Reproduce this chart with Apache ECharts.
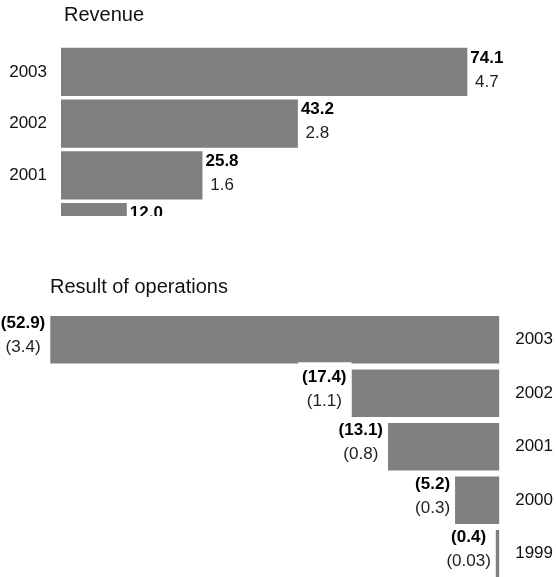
<!DOCTYPE html>
<html>
<head>
<meta charset="utf-8">
<script src="https://cdn.jsdelivr.net/npm/echarts@6/dist/echarts.min.js"></script>
<style>
html,body{margin:0;padding:0;background:#fff;width:556px;height:577px;overflow:hidden;}
#topWrap{position:absolute;left:0;top:0;width:556px;height:216px;overflow:hidden;}
#top{width:556px;height:300px;}
#botWrap{position:absolute;left:0;top:270px;width:556px;height:307px;overflow:hidden;}
#bot{width:556px;height:330px;}
</style>
</head>
<body>
<div id="topWrap"><div id="top"></div></div>
<div id="botWrap"><div id="bot"></div></div>
<script>
// Revenue panel (visible part; 2000 row is cut off in the reference)
const revYears = ['2003', '2002', '2001', '2000'];
const revenue = [74.1, 43.2, 25.8, 12.0];
const revenueSub = ['4.7', '2.8', '1.6', ''];

// Result of operations panel (losses)
const opYears = ['2003', '2002', '2001', '2000', '1999'];
const opResult = [52.9, 17.4, 13.1, 5.2, 0.4];
const opSub = ['3.4', '1.1', '0.8', '0.3', '0.03'];

const FONT = 'Liberation Sans, Arial, Helvetica, sans-serif';
const BAR = '#808080';

const richStyles = {
  b: { fontFamily: FONT, fontSize: 17, fontWeight: 'bold', color: '#000', lineHeight: 24, align: 'center' },
  n: { fontFamily: FONT, fontSize: 17, color: '#222', lineHeight: 24, align: 'center' }
};

const titleStyle = { fontFamily: FONT, fontSize: 20, fontWeight: 'normal', color: '#111' };

const topChart = echarts.init(document.getElementById('top'), null, { renderer: 'canvas' });
topChart.setOption({
  animation: false,
  title: { text: 'Revenue', left: 64, top: 5, padding: 0, textStyle: titleStyle },
  grid: { left: 61, right: 1.5, top: 46, height: 207 },
  xAxis: { type: 'value', min: 0, max: 90, show: false },
  yAxis: {
    type: 'category', data: revYears, inverse: true,
    axisLine: { show: false }, axisTick: { show: false },
    axisLabel: { fontFamily: FONT, fontSize: 17, color: '#111', margin: 14 }
  },
  series: [{
    type: 'bar', data: revenue, barCategoryGap: '7%',
    itemStyle: { color: BAR },
    label: {
      show: true, position: 'right', distance: 3, offset: [0, -2],
      formatter: p => '{b|' + p.value.toFixed(1) + '}\n{n|' + revenueSub[p.dataIndex] + '}',
      rich: richStyles
    }
  }]
});

const botChart = echarts.init(document.getElementById('bot'), null, { renderer: 'canvas' });
const opData = opResult.map((v, i) => i === 1
  ? { value: v, label: { backgroundColor: '#fff', padding: [3, 5, 3, 4], distance: 0 } }
  : v);
botChart.setOption({
  animation: false,
  title: { text: 'Result of operations', left: 50, top: 7, padding: 0, textStyle: titleStyle },
  grid: { left: 7, right: 56, top: 43, height: 267.5 },
  xAxis: { type: 'value', min: 0, max: 58, inverse: true, show: false },
  yAxis: {
    type: 'category', data: opYears, inverse: true, position: 'right',
    axisLine: { show: false }, axisTick: { show: false },
    axisLabel: { fontFamily: FONT, fontSize: 17, color: '#111', margin: 16 }
  },
  series: [{
    type: 'bar', data: opData, barCategoryGap: '11%',
    itemStyle: { color: BAR },
    label: {
      show: true, position: 'left', distance: 5, offset: [0, -4],
      formatter: p => '{b|(' + opResult[p.dataIndex].toFixed(1) + ')}\n{n|(' + opSub[p.dataIndex] + ')}',
      rich: richStyles
    }
  }]
});
</script>
</body>
</html>
